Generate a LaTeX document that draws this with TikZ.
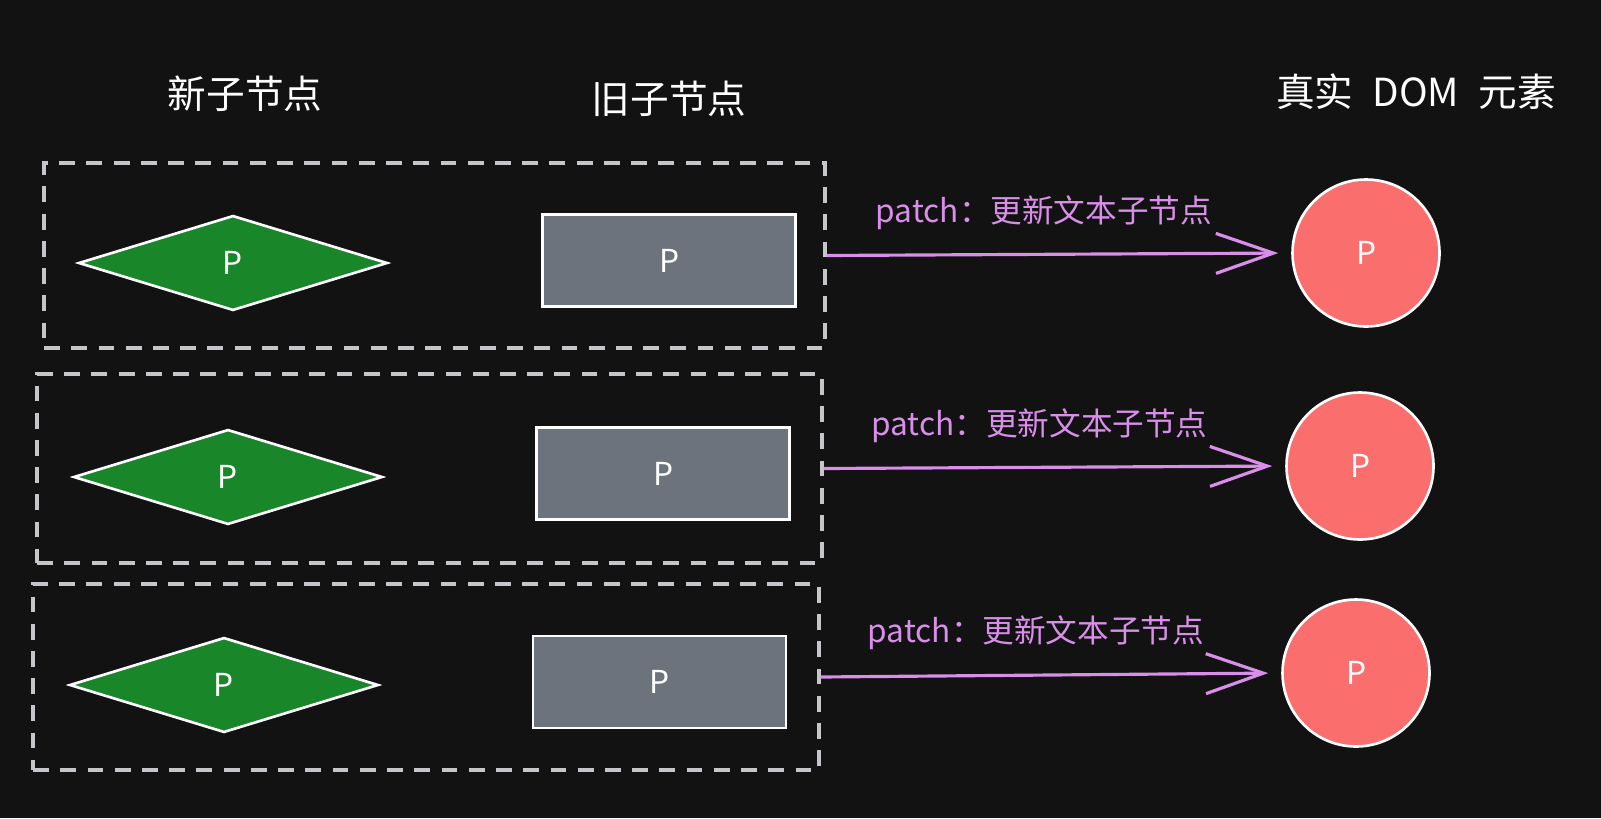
\documentclass[tikz,border=0pt]{standalone}
\usepackage{fontspec}
\setmainfont{Noto Sans CJK SC}
\usetikzlibrary{shapes.geometric,arrows.meta}
\definecolor{bgdark}{HTML}{121212}
\definecolor{newgreen}{HTML}{19862A}
\definecolor{oldgray}{HTML}{6C737D}
\definecolor{domred}{HTML}{FA6E6E}
\definecolor{patchpurple}{HTML}{D98EEA}
\definecolor{dashgray}{HTML}{C4C6CA}
\begin{document}
\begin{tikzpicture}[x=0.02cm,y=-0.02cm,
	title/.style={text=white,font=\fontsize{22}{26}\selectfont},
	groupbox/.style={draw=dashgray,line width=1.9pt,dash pattern=on 9pt off 6.5pt,inner sep=0pt},
	newnode/.style={diamond,draw=white,fill=newgreen,line width=1.5pt,inner sep=0pt,minimum width=6.18cm,minimum height=1.9cm,text=white,font=\fontsize{18}{20}\selectfont},
	oldnode/.style={rectangle,draw=white,fill=oldgray,line width=1.5pt,inner sep=0pt,minimum width=5.06cm,minimum height=1.84cm,text=white,font=\fontsize{18}{20}\selectfont},
	domnode/.style={circle,draw=white,fill=domred,line width=1.5pt,inner sep=0pt,minimum size=2.94cm,text=white,font=\fontsize{18}{20}\selectfont},
	patch/.style={draw=patchpurple,line width=1.8pt,-{Straight Barb[length=1.15cm,width=0.8cm]},shorten >=0.26cm},
	patchlabel/.style={midway,text=patchpurple,font=\fontsize{18}{22}\selectfont,yshift=0.84cm,xshift=-0.3cm}]
	% background and page size
	\fill[bgdark] (0,0) rectangle (1601,818);
	\useasboundingbox (0,0) rectangle (1601,818);

	% column titles
	\node[title] (newtitle) at (245,94) {新子节点};
	\node[title] (oldtitle) at (669,99) {旧子节点};
	\node[title] (domtitle) at (1416,92) {真实\hspace{0.5em}DOM\hspace{0.5em}元素};

	% dashed groups
	\node[groupbox,minimum width=15.62cm,minimum height=3.7cm] (row1) at (434.5,255.5) {};
	\node[groupbox,minimum width=15.7cm,minimum height=3.78cm] (row2) at (429.5,468.5) {};
	\node[groupbox,minimum width=15.72cm,minimum height=3.72cm] (row3) at (426,677) {};

	% new children
	\node[newnode] (new1) at (233,263) {P};
	\node[newnode] (new2) at (228,477) {P};
	\node[newnode] (new3) at (224,685) {P};

	% old children
	\node[oldnode] (old1) at (669,260.5) {P};
	\node[oldnode] (old2) at (663,473.5) {P};
	\node[oldnode] (old3) at (659.5,682) {P};

	% real DOM elements
	\node[domnode] (dom1) at (1366,253) {P};
	\node[domnode] (dom2) at (1360,466) {P};
	\node[domnode] (dom3) at (1356,673) {P};

	% patch arrows
	\draw[patch] (row1.east) -- node[patchlabel] {patch：更新文本子节点} (dom1.west);
	\draw[patch] (row2.east) -- node[patchlabel] {patch：更新文本子节点} (dom2.west);
	\draw[patch] (row3.east) -- node[patchlabel] {patch：更新文本子节点} (dom3.west);
\end{tikzpicture}
\end{document}
